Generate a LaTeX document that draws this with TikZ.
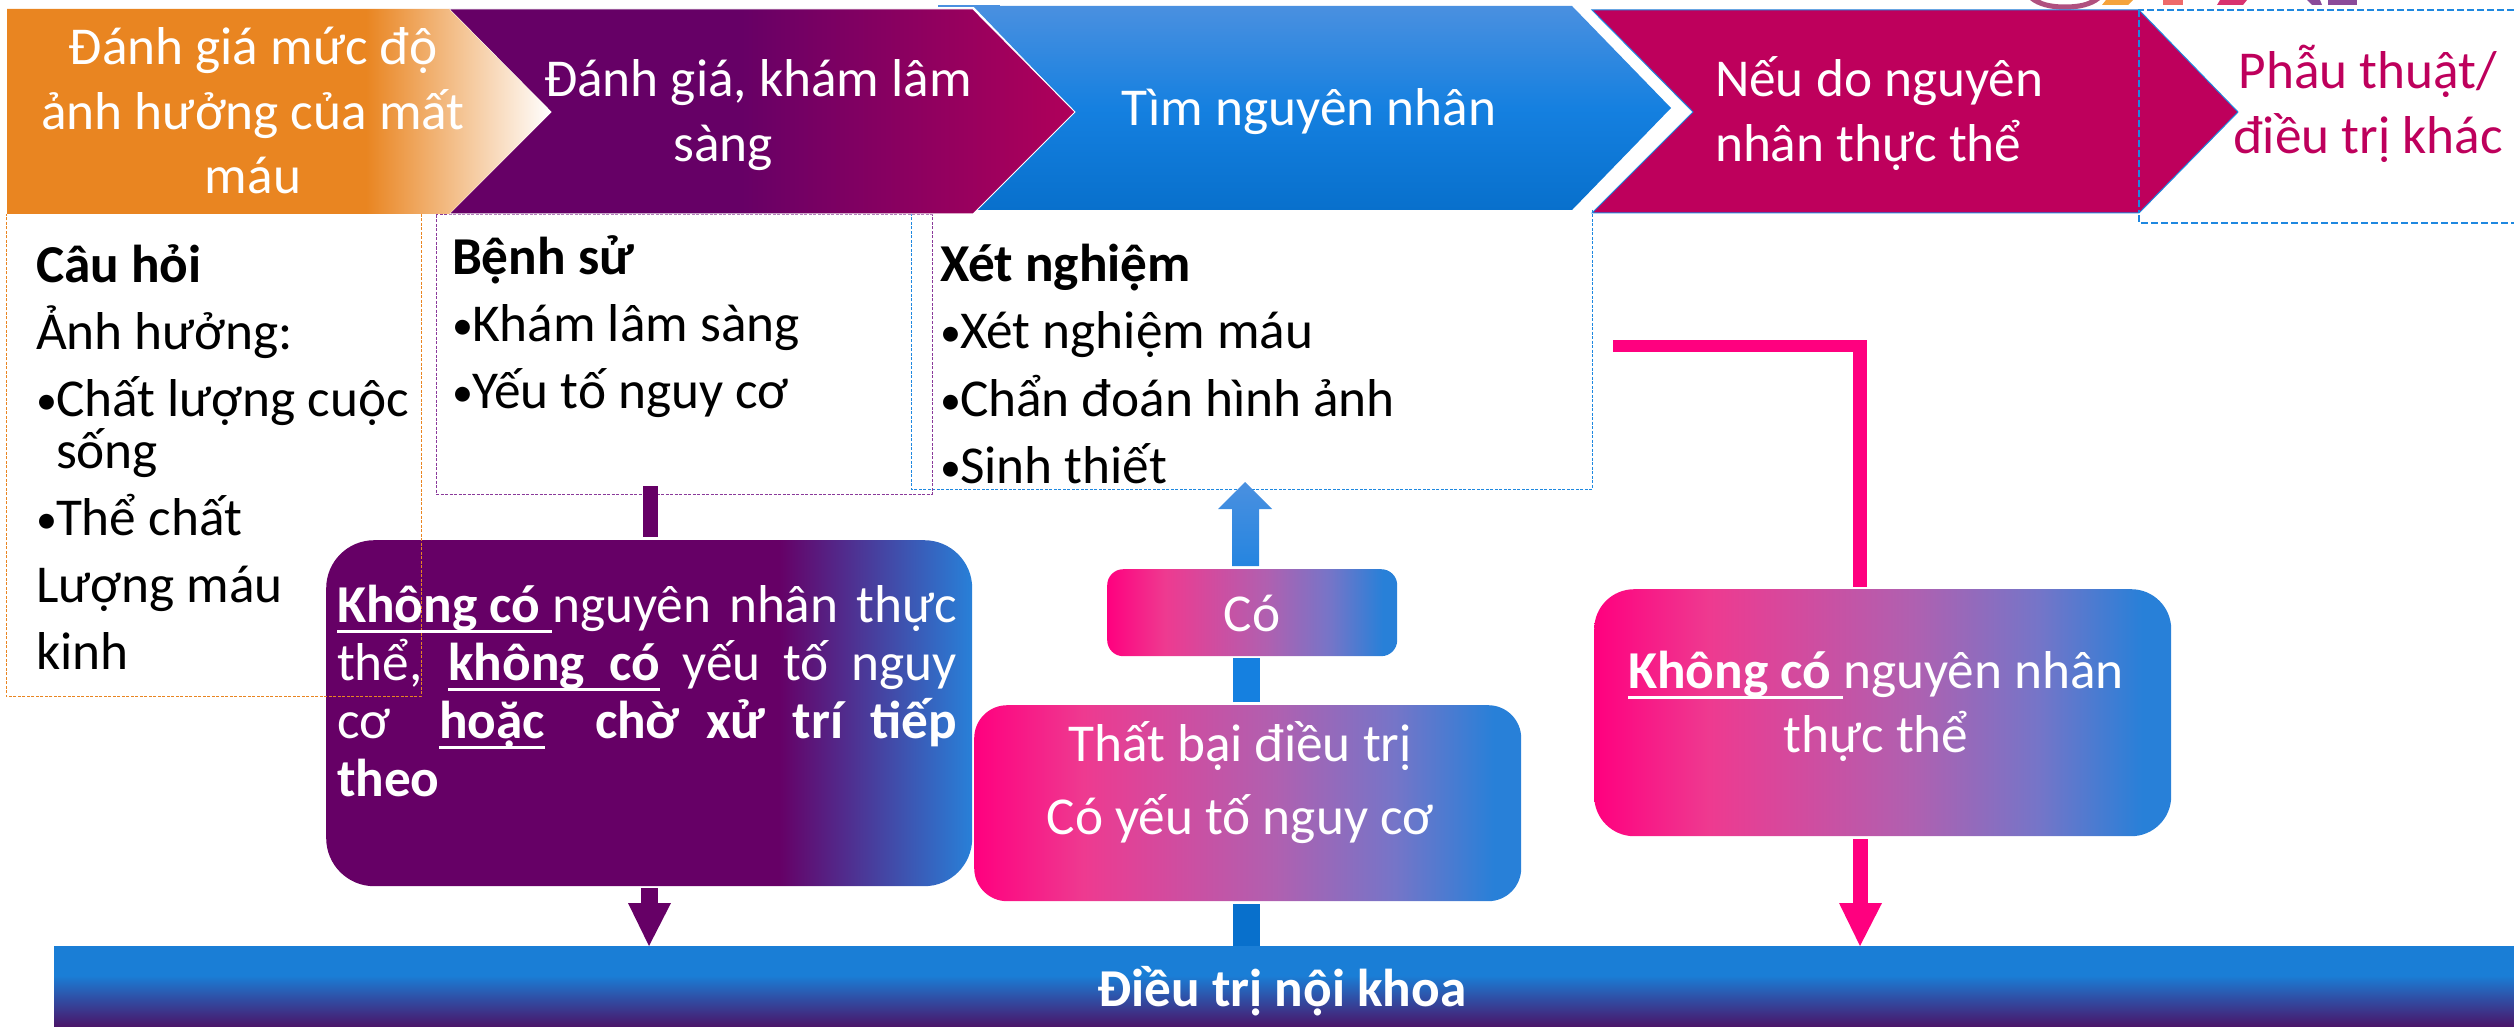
\documentclass[tikz,border=0pt]{standalone}
\usepackage{fontspec}
\setmainfont{Carlito}
\usetikzlibrary{arrows.meta}
\definecolor{orangeA}{HTML}{E98521}
\definecolor{purpleA}{HTML}{660066}
\definecolor{roseA}{HTML}{B0005A}
\definecolor{crimsonA}{HTML}{BE005C}
\definecolor{blueT}{HTML}{4A90E0}
\definecolor{blueM}{HTML}{1580E0}
\definecolor{blueB}{HTML}{0870CC}
\definecolor{pinkA}{HTML}{FF007F}
\definecolor{pinkB}{HTML}{EE3A90}
\definecolor{mauveA}{HTML}{B060B0}
\definecolor{mauveB}{HTML}{7575C8}
\definecolor{blueE}{HTML}{2880D8}
\definecolor{barTop}{HTML}{1A7ED6}
\definecolor{barBot}{HTML}{4B1367}
\definecolor{dashB}{HTML}{1E88E0}
\definecolor{dashO}{HTML}{E98521}
\definecolor{dashP}{HTML}{8A3A9A}
\definecolor{logoA}{HTML}{B0507F}
\definecolor{logoB}{HTML}{F5A33C}
\definecolor{logoC}{HTML}{EE6A6A}
\definecolor{logoD}{HTML}{D8326F}
\definecolor{logoE}{HTML}{8A4A9A}
\pgfdeclarehorizontalshading{orangefade}{100bp}{color(0bp)=(orangeA); color(58bp)=(orangeA); color(75bp)=(white); color(100bp)=(white)}
\pgfdeclarehorizontalshading{purplerose}{100bp}{color(0bp)=(purpleA); color(48bp)=(purpleA); color(75bp)=(roseA); color(100bp)=(roseA)}
\pgfdeclarehorizontalshading{purpleblue}{100bp}{color(0bp)=(purpleA); color(60bp)=(purpleA); color(75bp)=(blueE); color(100bp)=(blueE)}
\pgfdeclarehorizontalshading{pinkblue}{100bp}{color(0bp)=(pinkA); color(25bp)=(pinkA); color(35bp)=(pinkB); color(52.5bp)=(mauveA); color(63.5bp)=(mauveB); color(72.5bp)=(blueE); color(100bp)=(blueE)}
\pgfdeclareverticalshading{bluechev}{100bp}{color(0bp)=(blueB); color(25bp)=(blueB); color(50bp)=(blueM); color(75bp)=(blueT); color(100bp)=(blueT)}
\pgfdeclareverticalshading{basebar}{100bp}{color(0bp)=(barBot); color(25bp)=(barBot); color(57bp)=(barTop); color(100bp)=(barTop)}
\newcommand{\ulin}[1]{\leavevmode\setbox0\hbox{#1}\rlap{\rule[-11pt]{\wd0}{3.5pt}}\box0 }
\newcommand{\fs}[1]{\fontsize{53.3}{#1}\selectfont\lineskiplimit=-100pt\relax}
\newcommand{\hs}{\rule{0pt}{50pt}}
\newcommand{\blt}{\makebox[20pt][l]{\fontsize{42}{42}\selectfont\raisebox{2pt}{\textbullet}}}
\tikzset{
  x=1pt,y=-1pt,
  txt/.style={inner sep=0pt,outer sep=0pt},
  wtxt/.style={txt,text=white,align=center,anchor=north},
  ktxt/.style={txt,text=black,align=left,anchor=north west},
  dbox/.style={draw=#1,dash pattern=on 3pt off 1.5pt,line width=1pt},
  gbox/.style={rectangle,draw=none,anchor=north west,inner sep=0pt},
  pbar/.style={line width=15pt,draw=purpleA},
  pkbar/.style={line width=15pt,draw=pinkA},
}
\begin{document}
\begin{tikzpicture}
\useasboundingbox (0,0) rectangle (2514,1027);
% logo fragments
\fill[logoA] (2030,0) .. controls (2045,13) and (2085,13) .. (2100,0) -- (2090,0) .. controls (2080,6) and (2050,6) .. (2040,0) -- cycle;
\fill[logoB] (2102,5) -- (2128,5) -- (2133,0) -- (2106,0) -- cycle;
\fill[logoC] (2163,0) rectangle (2183,5);
\fill[logoD] (2217,5) -- (2243,5) -- (2247,0) -- (2220,0) -- cycle;
\fill[logoE] (2307,0) -- (2312,5) -- (2322,5) -- (2320,0) -- cycle;
\fill[logoE] (2328,0) rectangle (2357,5);
% right dashed box
\draw[dbox=dashB,line width=2pt,dash pattern=on 7pt off 3pt] (2514,10) -- (2139,10) -- (2139,223) -- (2514,223);
% detail boxes
\draw[dbox=dashB] (1592,210) -- (1592,489) -- (911,489) -- (911,214);
\draw[dbox=dashP] (436,215) rectangle (932,494);
% blue thin top line
\fill[blueT] (938,5) rectangle (1000,7);
% chevrons
\path[shade,shading=bluechev] (973,6) -- (1572,6) -- (1671,108) -- (1572,210) -- (975,210) -- (1075,112) -- cycle;
\path[shade,shading=purplerose,draw=white,line width=1pt] (449,9) -- (973,9) -- (1075,112) -- (973,214) -- (449,214) -- (551,112) -- cycle;
\path[shade,shading=orangefade] (7,9) -- (449,9) -- (551,112) -- (449,214) -- (7,214) -- cycle;
\path[fill=crimsonA,draw=dashB,line width=1pt] (1592,10) -- (2139,10) -- (2238,112) -- (2139,213) -- (1592,213) -- (1693,112) -- cycle;
\draw[dbox=dashB,line width=1.5pt,dash pattern=on 7pt off 3pt] (2139,10) -- (2139,213);
% chevron labels
\node[wtxt,font=\fs{64.5}] (c1) at (253,15) {\hs Đánh giá mức độ\\ảnh hưởng của mất\\máu};
\node[wtxt,font=\fs{64.5}] (c2) at (758,47) {\hs Đánh giá, khám lâm\\sàng\hspace*{70pt}};
\node[wtxt,font=\fs{64.5}] (c3) at (1309,76) {\hs Tìm nguyên nhân};
\node[ktxt,text=white,font=\fs{64.5}] (c4) at (1715,47) {\hs Nếu do nguyên\\nhân thực thể};
\node[wtxt,text=crimsonA,font=\fs{64.5}] (c5) at (2368,39) {\hs Phẫu thuật/\\điều trị khác};
% detail text
\node[ktxt,font=\fs{67}] (q) at (36,232) {\hs\textbf{Câu hỏi}\\Ảnh hưởng:\\\blt Chất lượng cuộc\\[-15pt]\hspace*{20pt}sống\\\blt Thể chất\\Lượng máu\\kinh};
\node[ktxt,font=\fs{67}] (h) at (452,224) {\hs\textbf{Bệnh sử}\\\blt Khám lâm sàng\\\blt Yếu tố nguy cơ};
\node[ktxt,font=\fs{67.5}] (x) at (940,231) {\hs\textbf{Xét nghiệm}\\\blt Xét nghiệm máu\\\blt Chẩn đoán hình ảnh\\\blt Sinh thiết};
% rounded boxes
\node[gbox,minimum width=646pt,minimum height=346pt,rounded corners=48pt,shade,shading=purpleblue] (pb) at (326,540) {};
\node[gbox,minimum width=290pt,minimum height=87pt,rounded corners=16pt,shade,shading=pinkblue] (co) at (1107,569) {};
\node[gbox,minimum width=547pt,minimum height=196pt,rounded corners=33pt,shade,shading=pinkblue] (tb) at (974,705) {};
\node[gbox,minimum width=577pt,minimum height=247pt,rounded corners=40pt,shade,shading=pinkblue] (kc) at (1594,589) {};
\node[gbox,minimum width=2460pt,minimum height=81pt,shade,shading=basebar] (base) at (54,946) {};
% orange dashed box lies over the purple box
\draw[dbox=dashO] (421,214) -- (421,696) -- (6,696) -- (6,214);
% box labels
\node[txt,text=white,anchor=north west,text width=620pt,align=justify,font=\fs{58}] (pbt) at (337,572) {\hs\ulin{\textbf{Không có }}nguyên nhân thực\linebreak thể, \ulin{\textbf{không\hspace{12pt} có}} yếu tố nguy\linebreak cơ\hspace{22pt} \ulin{\textbf{hoặc}}\hspace{50pt}\textbf{chờ xử trí tiếp}\linebreak \textbf{theo}};
\node[wtxt,font=\fs{64}] (cot) at (1252,581) {\hs Có};
\node[wtxt,font=\fs{73}] (tbt) at (1240,711) {\hs Thất bại điều trị\\Có yếu tố nguy cơ};
\node[wtxt,font=\fs{64}] (kct) at (1876,638) {\hs\ulin{\textbf{Không có }}nguyên nhân\\thực thể};
\node[wtxt,font=\fs{64}] (baset) at (1282,956) {\hs\textbf{Điều trị nội khoa}};
% connectors
\coordinate (a1) at (650,486);
\coordinate (a2) at (650,537);
\draw[pbar] (a1) -- (a2);
\coordinate (a3) at (649,888);
\coordinate (a4) at (649,903);
\coordinate (a5) at (649,946);
\draw[pbar,line width=17pt] (a3) -- (a4);
\fill[purpleA] (628,903) -- (671,903) -- (a5) -- cycle;
\coordinate (b1) at (1246,946);
\coordinate (b2) at (1246,904);
\draw[line width=27pt,draw=blueB] (b1) -- (b2);
\coordinate (b3) at (1246,702);
\coordinate (b4) at (1246,658);
\draw[line width=27pt,draw=blueM] (b3) -- (b4);
\path[shade,top color=blueT,bottom color=blueM!70!blueT] (1232,566) -- (1232,509) -- (1218,509) -- (1245,482) -- (1272,509) -- (1259,509) -- (1259,566) -- cycle;
\coordinate (k1) at (1613,346);
\coordinate (k2) at (1867,346);
\coordinate (k3) at (1860,340);
\coordinate (k4) at (1860,587);
\draw[pinkA,line width=12pt] (k1) -- (k2);
\draw[pinkA,line width=14pt] (k3) -- (k4);
\coordinate (k5) at (1860,839);
\coordinate (k6) at (1860,903);
\coordinate (k7) at (1860,946);
\draw[pkbar] (k5) -- (k6);
\fill[pinkA] (1839,903) -- (1882,903) -- (k7) -- cycle;
\end{tikzpicture}
\end{document}
